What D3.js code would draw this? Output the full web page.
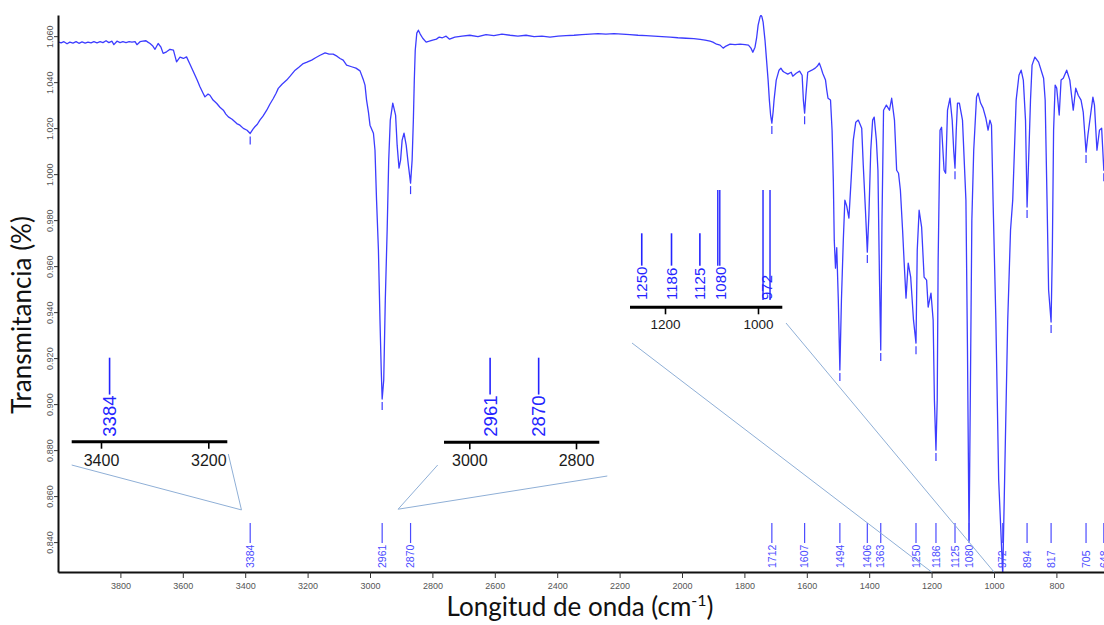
<!DOCTYPE html>
<html>
<head>
<meta charset="utf-8">
<script src="https://cdn.jsdelivr.net/npm/d3@7"></script>
<style>
  body { margin: 0; background: #fff; }
  svg { display: block; }
</style>
</head>
<body>
<div id="chart"></div>
<script>
// IR spectrum: wavenumber (cm-1) and transmittance
const wavenumber = [
  4000, 3990, 3981, 3971, 3962, 3952, 3942, 3933, 3923, 3913, 3904, 3894, 3885, 3875, 3865, 3856,
  3846, 3837, 3827, 3821, 3811, 3801, 3792, 3782, 3772, 3763, 3753, 3747, 3737, 3728, 3718, 3712,
  3705, 3696, 3689, 3679, 3670, 3663, 3652, 3641, 3630, 3620, 3609, 3598, 3588, 3577, 3566, 3554,
  3545, 3535, 3529, 3519, 3513, 3503, 3491, 3481, 3470, 3462, 3454, 3442, 3427, 3417, 3406, 3394,
  3384, 3375, 3369, 3361, 3353, 3343, 3331, 3321, 3310, 3301, 3294, 3282, 3267, 3256, 3240, 3228,
  3214, 3202, 3187, 3173, 3160, 3144, 3131, 3118, 3106, 3096, 3086, 3075, 3059, 3045, 3032, 3021,
  3016, 3011, 3005, 3000, 2989, 2984, 2979, 2973, 2968, 2964, 2961, 2956, 2951, 2945, 2940, 2935,
  2927, 2918, 2913, 2907, 2902, 2897, 2891, 2884, 2877, 2870, 2865, 2861, 2858, 2855, 2850, 2845,
  2839, 2831, 2820, 2810, 2799, 2787, 2778, 2768, 2756, 2745, 2728, 2705, 2680, 2654, 2628, 2603,
  2577, 2551, 2526, 2500, 2474, 2449, 2423, 2397, 2372, 2346, 2321, 2295, 2269, 2244, 2218, 2192,
  2167, 2141, 2115, 2090, 2064, 2038, 2013, 1987, 1962, 1942, 1926, 1910, 1901, 1889, 1878, 1868,
  1859, 1846, 1830, 1814, 1798, 1787, 1779, 1773, 1766, 1761, 1756, 1750, 1747, 1744, 1740, 1734,
  1729, 1724, 1720, 1716, 1712, 1708, 1705, 1698, 1689, 1683, 1677, 1672, 1661, 1650, 1645, 1634,
  1623, 1615, 1611, 1607, 1603, 1597, 1584, 1573, 1566, 1560, 1554, 1549, 1540, 1536, 1532, 1524,
  1519, 1515, 1512, 1508, 1504, 1499, 1494, 1489, 1483, 1478, 1472, 1465, 1458, 1451, 1443, 1435,
  1424, 1419, 1412, 1406, 1401, 1395, 1389, 1384, 1377, 1372, 1367, 1363, 1359, 1354, 1345, 1335,
  1328, 1319, 1312, 1306, 1300, 1293, 1288, 1282, 1275, 1267, 1258, 1250, 1246, 1240, 1232, 1224,
  1216, 1211, 1202, 1195, 1191, 1186, 1182, 1179, 1173, 1168, 1160, 1155, 1149, 1141, 1134, 1129,
  1125, 1121, 1117, 1111, 1101, 1090, 1085, 1080, 1076, 1071, 1065, 1056, 1051, 1043, 1035, 1026,
  1019, 1013, 1008, 1003, 994, 985, 972, 966, 956, 947, 940, 929, 920, 913, 906, 899,
  894, 888, 883, 878, 869, 857, 841, 836, 830, 825, 817, 813, 809, 804, 799, 791,
  785, 778, 767, 757, 746, 738, 730, 721, 714, 705, 699, 683, 678, 670, 662, 655,
  648, 640
];
const transmittance = [
  1.0575, 1.0571, 1.0576, 1.0567, 1.0574, 1.0570, 1.0576, 1.0569, 1.0575, 1.0570, 1.0574, 1.0571, 1.0576, 1.0571, 1.0576, 1.0572,
  1.0580, 1.0572, 1.0578, 1.0563, 1.0578, 1.0572, 1.0576, 1.0572, 1.0576, 1.0574, 1.0576, 1.0563, 1.0576, 1.0578, 1.0580, 1.0574,
  1.0568, 1.0557, 1.0543, 1.0568, 1.0552, 1.0525, 1.0532, 1.0543, 1.0539, 1.0488, 1.0509, 1.0503, 1.0510, 1.0478, 1.0445, 1.0409,
  1.0380, 1.0352, 1.0336, 1.0348, 1.0343, 1.0322, 1.0307, 1.0291, 1.0278, 1.0261, 1.0249, 1.0239, 1.0220, 1.0213, 1.0199, 1.0191,
  1.0177, 1.0196, 1.0206, 1.0217, 1.0235, 1.0252, 1.0278, 1.0304, 1.0329, 1.0352, 1.0373, 1.0391, 1.0409, 1.0426, 1.0452, 1.0465,
  1.0481, 1.0487, 1.0496, 1.0507, 1.0517, 1.0527, 1.0522, 1.0522, 1.0513, 1.0503, 1.0496, 1.0474, 1.0467, 1.0461, 1.0449, 1.0409,
  1.0387, 1.0322, 1.0270, 1.0213, 1.0178, 1.0104, 0.9887, 0.9670, 0.9365, 0.9148, 0.9022, 0.9104, 0.9452, 0.9757, 1.0061, 1.0235,
  1.0309, 1.0257, 1.0126, 1.0026, 1.0061, 1.0148, 1.0178, 1.0126, 1.0039, 0.9961, 1.0061, 1.0235, 1.0409, 1.0539, 1.0613, 1.0626,
  1.0609, 1.0591, 1.0574, 1.0578, 1.0583, 1.0587, 1.0596, 1.0593, 1.0600, 1.0587, 1.0596, 1.0600, 1.0604, 1.0598, 1.0607, 1.0602,
  1.0609, 1.0604, 1.0600, 1.0604, 1.0598, 1.0600, 1.0596, 1.0600, 1.0602, 1.0604, 1.0607, 1.0609, 1.0611, 1.0609, 1.0611, 1.0609,
  1.0607, 1.0604, 1.0602, 1.0600, 1.0598, 1.0596, 1.0593, 1.0591, 1.0589, 1.0586, 1.0583, 1.0578, 1.0574, 1.0565, 1.0561, 1.0548,
  1.0557, 1.0565, 1.0563, 1.0565, 1.0563, 1.0561, 1.0548, 1.0530, 1.0552, 1.0591, 1.0648, 1.0683, 1.0691, 1.0685, 1.0661, 1.0583,
  1.0496, 1.0409, 1.0322, 1.0257, 1.0222, 1.0270, 1.0322, 1.0409, 1.0452, 1.0461, 1.0448, 1.0443, 1.0435, 1.0443, 1.0426, 1.0439,
  1.0448, 1.0430, 1.0322, 1.0265, 1.0343, 1.0443, 1.0452, 1.0461, 1.0470, 1.0483, 1.0461, 1.0439, 1.0409, 1.0365, 1.0330, 1.0322,
  1.0191, 0.9974, 0.9713, 0.9591, 0.9680, 0.9452, 0.9148, 0.9452, 0.9713, 0.9887, 0.9861, 0.9809, 0.9974, 1.0148, 1.0226, 1.0235,
  1.0200, 1.0039, 0.9843, 0.9661, 0.9822, 1.0104, 1.0235, 1.0248, 1.0148, 1.0017, 0.9539, 0.9235, 0.9800, 1.0278, 1.0300, 1.0278,
  1.0330, 1.0235, 1.0017, 1.0004, 0.9930, 0.9757, 0.9617, 0.9461, 0.9613, 0.9552, 0.9365, 0.9265, 0.9670, 0.9843, 0.9770, 0.9552,
  0.9539, 0.9422, 0.9483, 0.9365, 0.9017, 0.8800, 0.9017, 0.9626, 1.0191, 1.0204, 1.0017, 1.0004, 1.0278, 1.0330, 1.0235, 1.0100,
  1.0026, 1.0191, 1.0309, 1.0309, 1.0235, 0.9887, 0.9235, 0.8409, 0.9017, 0.9800, 1.0104, 1.0335, 1.0352, 1.0309, 1.0287, 1.0243,
  1.0191, 1.0235, 1.0213, 0.9887, 0.9365, 0.8670, 0.8257, 0.8670, 0.9365, 0.9757, 0.9887, 1.0322, 1.0430, 1.0452, 1.0409, 1.0235,
  0.9857, 1.0104, 1.0322, 1.0474, 1.0509, 1.0487, 1.0417, 1.0322, 0.9887, 0.9496, 0.9357, 0.9670, 1.0191, 1.0387, 1.0374, 1.0257,
  1.0409, 1.0417, 1.0452, 1.0409, 1.0278, 1.0374, 1.0343, 1.0322, 1.0270, 1.0096, 1.0170, 1.0335, 1.0300, 1.0104, 1.0191, 1.0200,
  1.0017, 1.0150
];

// labelled peaks
const peakLabels = [3384, 2961, 2870, 1712, 1607, 1494, 1406, 1363, 1250, 1186, 1125, 1080, 972, 894, 817, 705, 648];

// axis ticks
const xTicks = [3800, 3600, 3400, 3200, 3000, 2800, 2600, 2400, 2200, 2000, 1800, 1600, 1400, 1200, 1000, 800];
const yTicks = [0.84, 0.86, 0.88, 0.90, 0.92, 0.94, 0.96, 0.98, 1.00, 1.02, 1.04, 1.06];

// zoom insets
const inset1Ticks = [3400, 3200];
const inset1Peaks = [3384];
const inset2Ticks = [3000, 2800];
const inset2Peaks = [2961, 2870];
const inset3Ticks = [1200, 1000];
const inset3Peaks = [1250, 1186, 1125, 1080, 972];

const W = 1104, H = 625;
const lineBlue = "#3c3cff";
const labelBlue = "#4b4bff";

const svg = d3.select("#chart").append("svg")
  .attr("width", W).attr("height", H);
svg.append("rect").attr("width", W).attr("height", H).attr("fill", "#fff");

const x = d3.scaleLinear().domain([4000, 600]).range([58, 1118.8]);
const y = d3.scaleLinear().domain([0.827, 1.0692]).range([572, 15]);

const spectrum = wavenumber.map((w, i) => [w, transmittance[i]]);
const tAt = w => spectrum.find(d => d[0] === w)[1];

svg.append("clipPath").attr("id", "plotClip")
  .append("rect").attr("x", 58).attr("y", 15).attr("width", W - 58).attr("height", 557);

// spectrum
svg.append("path")
  .datum(spectrum)
  .attr("clip-path", "url(#plotClip)")
  .attr("fill", "none")
  .attr("stroke", lineBlue)
  .attr("stroke-width", 1.3)
  .attr("stroke-linejoin", "round")
  .attr("d", d3.line().x(d => x(d[0])).y(d => y(d[1])));

// little marks under each minimum
svg.append("g").selectAll("line")
  .data(peakLabels.filter(p => y(tAt(p)) < 500))
  .join("line")
  .attr("x1", d => x(d)).attr("x2", d => x(d))
  .attr("y1", d => y(tAt(d)) + 3)
  .attr("y2", d => y(tAt(d)) + 11)
  .attr("stroke", lineBlue).attr("stroke-width", 1.2);

// peak labels along the bottom
const bottomLab = svg.append("g").selectAll("g")
  .data(peakLabels)
  .join("g")
  .attr("transform", d => `translate(${x(d)},0)`);
bottomLab.append("line")
  .attr("y1", 523).attr("y2", 543)
  .attr("stroke", labelBlue).attr("stroke-width", 1.2);
bottomLab.append("text")
  .attr("transform", "translate(0,568) rotate(-90)")
  .attr("dy", "0.35em")
  .attr("font-family", "Liberation Sans, Arial, sans-serif")
  .attr("font-size", 10.5)
  .attr("fill", labelBlue)
  .text(d => d);

// axes
const xAxis = svg.append("g")
  .attr("transform", "translate(0,572)")
  .call(d3.axisBottom(x).tickValues(xTicks).tickSize(6).tickSizeOuter(0).tickFormat(d3.format("d")));
xAxis.select(".domain").attr("stroke", "#111").attr("stroke-width", 2);
xAxis.selectAll(".tick line").attr("stroke", "#333");
xAxis.selectAll(".tick text")
  .attr("y", 11)
  .attr("font-family", "Liberation Sans, Arial, sans-serif")
  .attr("font-size", 9).attr("fill", "#555");

const yAxis = svg.append("g")
  .attr("transform", "translate(58,0)")
  .call(d3.axisLeft(y).tickValues(yTicks).tickSize(4).tickSizeOuter(0).tickFormat(d3.format(".3f")));
yAxis.select(".domain").attr("stroke", "#111").attr("stroke-width", 2);
yAxis.selectAll(".tick line").attr("stroke", "#333");
yAxis.selectAll(".tick text")
  .attr("transform", "rotate(-90)")
  .attr("x", 0).attr("y", -5).attr("dy", 0)
  .attr("text-anchor", "middle")
  .attr("font-family", "Liberation Sans, Arial, sans-serif")
  .attr("font-size", 9).attr("fill", "#555");

// axis titles
svg.append("text")
  .attr("x", 580).attr("y", 616)
  .attr("text-anchor", "middle")
  .attr("font-family", "Lato, sans-serif")
  .attr("font-size", 26).attr("fill", "#111")
  .call(t => {
    t.append("tspan").text("Longitud de onda (cm");
    t.append("tspan").attr("font-size", 16).attr("dy", -10).text("-1");
    t.append("tspan").attr("dy", 10).text(")");
  });
svg.append("text")
  .attr("transform", "translate(31,315) rotate(-90)")
  .attr("text-anchor", "middle")
  .attr("font-family", "Lato, sans-serif")
  .attr("font-size", 26).attr("fill", "#111")
  .text("Transmitancia (%)");

// connector lines from insets to the main axis region
const connectors = [
  [[71.7, 465], [x(3412), y(0.854)]],
  [[228.3, 454], [x(3412), y(0.854)]],
  [[437.7, 465], [x(2910), y(0.8543)]],
  [[607.3, 476], [x(2910), y(0.8543)]],
  [[632, 343], [x(1200), 572]],
  [[786, 323], [x(1000), 572]]
];
svg.append("g").selectAll("line")
  .data(connectors)
  .join("line")
  .attr("x1", d => d[0][0]).attr("y1", d => d[0][1])
  .attr("x2", d => d[1][0]).attr("y2", d => d[1][1])
  .attr("stroke", "#8fafd6").attr("stroke-width", 1);

// insets
function drawInset(cfg) {
  const sx = d3.scaleLinear().domain(cfg.domain).range(cfg.range);
  const g = svg.append("g");
  const ax = g.append("g")
    .attr("transform", `translate(0,${cfg.axisY})`)
    .call(d3.axisBottom(sx).tickValues(cfg.ticks).tickSize(7).tickSizeOuter(0).tickFormat(d3.format("d")));
  ax.select(".domain").remove();
  ax.append("line")
    .attr("x1", cfg.extent[0]).attr("x2", cfg.extent[1])
    .attr("stroke", "#000").attr("stroke-width", 3);
  ax.selectAll(".tick line").attr("stroke", "#000").attr("stroke-width", 1.6);
  ax.selectAll(".tick text")
    .attr("y", cfg.labelY).attr("dy", 0)
    .attr("font-family", "Liberation Sans, Arial, sans-serif")
    .attr("font-size", cfg.tickFont).attr("fill", "#1a1a1a");

  const pk = g.selectAll(".pk")
    .data(cfg.peaks)
    .join("g")
    .attr("transform", d => `translate(${sx(d)},0)`);
  pk.each(function(d) {
    const sel = d3.select(this);
    const strong = tAt(d) < 0.85;
    const bottom = cfg.textStart - d.toString().length * 0.556 * cfg.font - 1;
    if (strong) {
      const gap = tAt(d) < 0.83 ? 7 : 2;
      [-gap - 1, -1].forEach(off => {
        sel.append("line")
          .attr("x1", off).attr("x2", off)
          .attr("y1", cfg.strongTop).attr("y2", tAt(d) < 0.83 ? cfg.textStart : bottom)
          .attr("stroke", "#2424ff").attr("stroke-width", 1.4);
      });
    } else {
      sel.append("line")
        .attr("y1", cfg.lineTop).attr("y2", bottom)
        .attr("stroke", "#2424ff").attr("stroke-width", 1.6);
    }
    sel.append("text")
      .attr("transform", `translate(${strong && tAt(d) < 0.83 ? -4 : 0},${cfg.textStart}) rotate(-90)`)
      .attr("dy", "0.35em")
      .attr("font-family", "Liberation Sans, Arial, sans-serif")
      .attr("font-size", cfg.font)
      .attr("fill", "#2424ff")
      .text(d);
  });
}

drawInset({ ticks: inset1Ticks, peaks: inset1Peaks, domain: [3400, 3200], range: [101, 208.3],
  extent: [71.7, 227.3], axisY: 441.7, labelY: 24, tickFont: 16, lineTop: 357.7, textStart: 436.7, font: 18.5 });
drawInset({ ticks: inset2Ticks, peaks: inset2Peaks, domain: [3000, 2800], range: [469.3, 576],
  extent: [444, 599.3], axisY: 442.3, labelY: 24, tickFont: 16, lineTop: 357.7, textStart: 436.7, font: 18.5 });
drawInset({ ticks: inset3Ticks, peaks: inset3Peaks, domain: [1200, 1000], range: [665, 758],
  extent: [630, 782.3], axisY: 307.3, labelY: 22, tickFont: 13.5, lineTop: 233.3, strongTop: 190, textStart: 300, font: 15 });
</script>
</body>
</html>
